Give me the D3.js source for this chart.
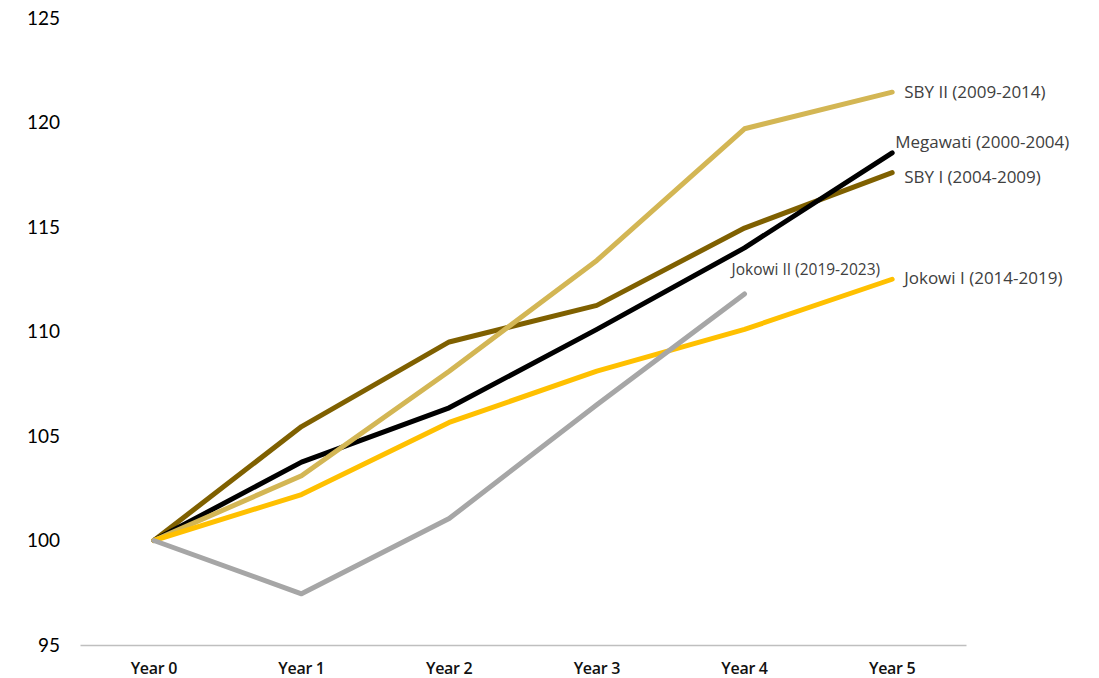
<!DOCTYPE html>
<html>
<head>
<meta charset="utf-8">
<script src="https://cdn.jsdelivr.net/npm/d3@7"></script>
<style>
  html, body { margin: 0; padding: 0; background: #fff; }
  svg { display: block; font-family: Lato, "Open Sans", sans-serif; }
</style>
</head>
<body>
<svg id="chart" width="1099" height="678"></svg>
<script>
// Index of real GDP per presidential term (Year 0 = 100)
const years = ["Year 0", "Year 1", "Year 2", "Year 3", "Year 4", "Year 5"];
const yTicks = [95, 100, 105, 110, 115, 120, 125];

const sbyI      = [100, 105.45, 109.5, 111.25, 114.95, 117.6];
const megawati  = [100, 103.75, 106.35, 110.1, 114.0, 118.55];
const sbyII     = [100, 103.1, 108.1, 113.4, 119.7, 121.45];
const jokowiI   = [100, 102.2, 105.65, 108.1, 110.1, 112.5];
const jokowiII  = [100, 97.45, 101.05, 106.5, 111.8];

const seriesNames = ["SBY I (2004-2009)", "Megawati (2000-2004)", "SBY II (2009-2014)", "Jokowi I (2014-2019)", "Jokowi II (2019-2023)"];
const seriesValues = [sbyI, megawati, sbyII, jokowiI, jokowiII];
const seriesColors = ["#7f6000", "#000000", "#d3b654", "#ffc000", "#a6a6a6"];

const svg = d3.select("#chart");

const x = d3.scaleBand().domain(years).range([80, 966]).padding(0);
const xc = d => x(d) + x.bandwidth() / 2;
const y = d3.scaleLinear().domain([95, 125]).range([645, 18]);

// y tick labels (no axis line)
const yAxis = d3.axisLeft(y).tickValues(yTicks).tickSize(0).tickPadding(0);
const gy = svg.append("g").attr("transform", "translate(60,0)").call(yAxis);
gy.select(".domain").remove();
gy.selectAll("text")
  .attr("font-size", 19)
  .attr("font-family", "Lato, 'Open Sans', sans-serif")
  .attr("fill", "#000");

// x axis with baseline
const xAxis = d3.axisBottom(x).tickSize(0).tickPadding(18);
const gx = svg.append("g").attr("transform", "translate(0,645)").call(xAxis);
gx.select(".domain").attr("stroke", "#bfbfbf").attr("stroke-width", 1.5);
gx.selectAll("text")
  .attr("font-size", 16)
  .attr("font-weight", 600)
  .attr("letter-spacing", -0.3)
  .attr("font-family", "'Open Sans', Lato, sans-serif")
  .attr("fill", "#111");

// lines
const line = d3.line()
  .x((d, i) => xc(years[i]))
  .y(d => y(d));

svg.append("g").selectAll("path")
  .data(seriesValues)
  .join("path")
  .attr("d", d => line(d))
  .attr("fill", "none")
  .attr("stroke", (d, i) => seriesColors[i])
  .attr("stroke-width", 5)
  .attr("stroke-linejoin", "round")
  .attr("stroke-linecap", "round");

// end labels
const labels = [
  { s: 2, dx: 12, dy: 1, size: 17 },
  { s: 1, dx: 3, dy: -9, size: 17 },
  { s: 0, dx: 12, dy: 6, size: 17 },
  { s: 3, dx: 12, dy: 0, size: 17 },
  { s: 4, dx: -13, dy: -23, size: 15.5 }
];
svg.append("g").selectAll("text")
  .data(labels)
  .join("text")
  .attr("x", d => {
    const v = seriesValues[d.s];
    return xc(years[v.length - 1]) + d.dx;
  })
  .attr("y", d => {
    const v = seriesValues[d.s];
    return y(v[v.length - 1]) + d.dy;
  })
  .attr("dominant-baseline", "middle")
  .attr("font-family", "'Open Sans', Lato, sans-serif")
  .attr("font-size", d => d.size)
  .attr("fill", "#404040")
  .text(d => seriesNames[d.s]);
</script>
</body>
</html>
